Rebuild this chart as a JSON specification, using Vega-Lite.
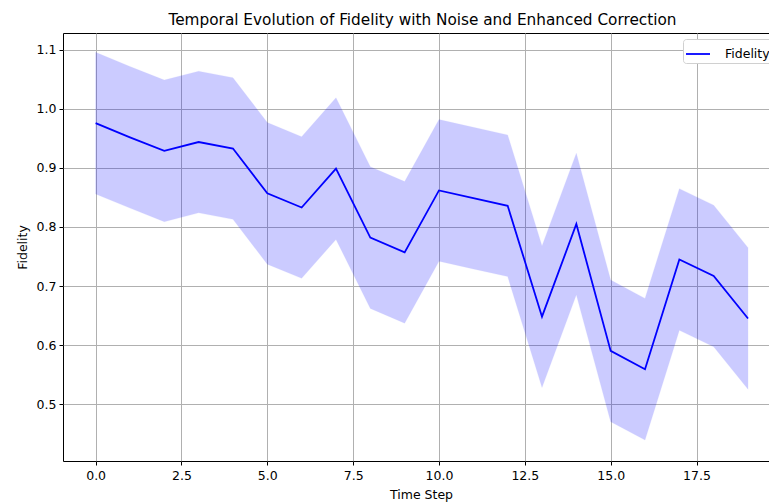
{
  "$schema": "https://vega.github.io/schema/vega-lite/v6.json",
  "autosize": {"type": "none"},
  "width": 707,
  "height": 428,
  "padding": {"left": 63, "top": 33, "right": 0, "bottom": 41},
  "background": "white",
  "title": {
    "text": "Temporal Evolution of Fidelity with Noise and Enhanced Correction",
    "font": "DejaVu Sans",
    "fontSize": 15.3,
    "fontWeight": "normal",
    "color": "#000000",
    "anchor": "middle",
    "offset": 5,
    "dx": 6
  },
  "config": {
    "view": {"stroke": "#000000", "strokeWidth": 1},
    "axis": {
      "labelFont": "DejaVu Sans",
      "labelFontSize": 12.5,
      "labelColor": "#000000",
      "titleFont": "DejaVu Sans",
      "titleFontSize": 12.5,
      "titleFontWeight": "normal",
      "titleColor": "#000000",
      "domain": false,
      "tickColor": "#000000",
      "tickSize": 4,
      "tickWidth": 1,
      "grid": true,
      "gridColor": "#b0b0b0",
      "gridWidth": 1
    },
    "legend": {
      "labelFont": "DejaVu Sans",
      "labelFontSize": 12.5,
      "labelColor": "#000000"
    }
  },
  "data": {
    "values": [
      {"t": 0, "fidelity": 0.976, "lower": 0.856, "upper": 1.096},
      {"t": 1, "fidelity": 0.952, "lower": 0.832, "upper": 1.072},
      {"t": 2, "fidelity": 0.929, "lower": 0.809, "upper": 1.049},
      {"t": 3, "fidelity": 0.944, "lower": 0.824, "upper": 1.064},
      {"t": 4, "fidelity": 0.933, "lower": 0.813, "upper": 1.053},
      {"t": 5, "fidelity": 0.857, "lower": 0.737, "upper": 0.977},
      {"t": 6, "fidelity": 0.833, "lower": 0.713, "upper": 0.953},
      {"t": 7, "fidelity": 0.899, "lower": 0.779, "upper": 1.019},
      {"t": 8, "fidelity": 0.782, "lower": 0.662, "upper": 0.902},
      {"t": 9, "fidelity": 0.757, "lower": 0.637, "upper": 0.877},
      {"t": 10, "fidelity": 0.862, "lower": 0.742, "upper": 0.982},
      {"t": 11, "fidelity": 0.849, "lower": 0.729, "upper": 0.969},
      {"t": 12, "fidelity": 0.836, "lower": 0.716, "upper": 0.956},
      {"t": 13, "fidelity": 0.648, "lower": 0.528, "upper": 0.768},
      {"t": 14, "fidelity": 0.805, "lower": 0.685, "upper": 0.925},
      {"t": 15, "fidelity": 0.590, "lower": 0.470, "upper": 0.710},
      {"t": 16, "fidelity": 0.559, "lower": 0.439, "upper": 0.679},
      {"t": 17, "fidelity": 0.745, "lower": 0.625, "upper": 0.865},
      {"t": 18, "fidelity": 0.717, "lower": 0.597, "upper": 0.837},
      {"t": 19, "fidelity": 0.645, "lower": 0.525, "upper": 0.765}
    ]
  },
  "layer": [
    {
      "mark": {"type": "area", "color": "#0000ff", "opacity": 0.2, "stroke": "#0000ff", "strokeOpacity": 0.2, "strokeWidth": 1},
      "encoding": {
        "x": {
          "field": "t",
          "type": "quantitative",
          "scale": {"domain": [-0.95, 19.64], "nice": false, "zero": false},
          "axis": {
            "title": "Time Step",
            "values": [0, 2.5, 5, 7.5, 10, 12.5, 15, 17.5],
            "format": ".1f",
            "labelPadding": 4,
            "titlePadding": 7,
            "titleX": 358
          }
        },
        "y": {
          "field": "lower",
          "type": "quantitative",
          "scale": {"domain": [0.4034, 1.1288], "nice": false, "zero": false},
          "axis": {
            "title": "Fidelity",
            "values": [0.5, 0.6, 0.7, 0.8, 0.9, 1.0, 1.1],
            "format": ".1f",
            "labelPadding": 3,
            "titlePadding": 7
          }
        },
        "y2": {"field": "upper"}
      }
    },
    {
      "mark": {"type": "line", "strokeWidth": 1.8},
      "encoding": {
        "x": {"field": "t", "type": "quantitative"},
        "y": {"field": "fidelity", "type": "quantitative"},
        "color": {
          "datum": "Fidelity",
          "type": "nominal",
          "scale": {"range": ["#0000ff"]},
          "legend": {
            "title": null,
            "orient": "none",
            "legendX": 620,
            "legendY": 6,
            "symbolType": "stroke",
            "symbolStrokeWidth": 1.8,
            "symbolSize": 576,
            "labelOffset": 14,
            "padding": 2,
            "fillColor": "#ffffff",
            "strokeColor": "#d0d0d0",
            "cornerRadius": 3
          }
        }
      }
    }
  ]
}
